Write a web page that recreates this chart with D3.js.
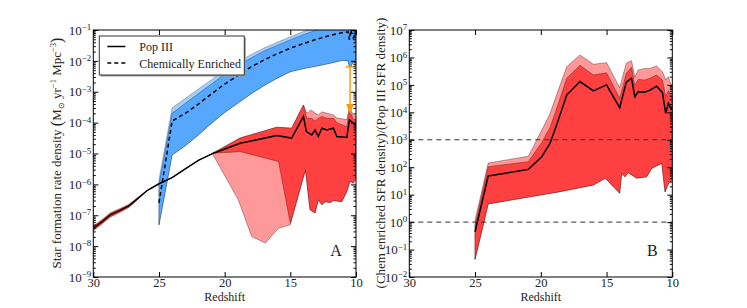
<!DOCTYPE html>
<html>
<head>
<meta charset="utf-8">
<script src="https://cdn.jsdelivr.net/npm/d3@7"></script>
<style>
body{margin:0;background:#fff;}
svg text{font-family:"Liberation Serif","Times New Roman",serif;}
</style>
</head>
<body>
<svg id="chart" width="747" height="308"></svg>
<script>
// all y values are log10 of the quantity
var xTicks = [30, 25, 20, 15, 10];
var leftYTicks = [1e-9, 1e-8, 1e-7, 1e-6, 1e-5, 1e-4, 1e-3, 1e-2, 1e-1];
var rightYTicks = [1e-2, 1e-1, 1, 1e1, 1e2, 1e3, 1e4, 1e5, 1e6, 1e7];
var ratioRefLines = [1e3, 1];

// panel A: Pop III
var popZ   = [30, 29.3, 28.7, 28, 27.3, 26.9, 26.4, 25.9, 25, 24, 23, 22, 20.85, 18.83, 16.03, 14.9, 14.0, 13.78, 13.37, 13.12, 12.87, 12.6, 12.22, 11.72, 11.46, 10.7, 10.5, 10.2, 10];
var popMed = [-7.42, -7.2, -6.99, -6.85, -6.7, -6.56, -6.38, -6.2, -5.98, -5.78, -5.5, -5.22, -4.99, -4.67, -4.42, -4.5, -3.8, -4.29, -4.4, -4.24, -4.45, -4.18, -4.24, -4.18, -4.45, -4.48, -3.91, -4.02, -4.07];
var popHiZ = [30, 29.3, 28.7, 28, 27.3, 26.9, 26.4, 25.9, 25, 24, 23, 22, 20.85, 18.83, 16.03, 14.9, 14.0, 13.75, 13.4, 13.1, 12.87, 12.6, 12.2, 11.7, 11.46, 10.7, 10.5, 10.2, 10];
var popHi  = [-7.35, -7.13, -6.92, -6.79, -6.65, -6.52, -6.36, -6.2, -5.98, -5.78, -5.5, -5.22, -4.99, -4.5, -4.15, -4.18, -3.43, -3.86, -3.86, -3.95, -3.86, -3.8, -3.86, -3.86, -4.0, -4.13, -3.59, -3.9, -3.9];
var popLoZ = [30, 29.3, 28.7, 28, 27.3, 26.9, 26.4, 25.9, 25, 24, 23, 22, 20.85, 18.8, 15.9, 15.0, 13.85, 13.5, 13.12, 12.87, 12.6, 12.35, 11.97, 11.72, 11.08, 10.7, 10.45, 10.2, 10];
var popLo  = [-7.5, -7.27, -7.06, -6.91, -6.75, -6.6, -6.4, -6.2, -5.98, -5.78, -5.5, -5.22, -4.99, -4.94, -5.26, -7.26, -5.53, -6.82, -6.93, -6.5, -6.66, -6.56, -6.59, -6.52, -6.56, -6.23, -5.9, -5.96, -5.8];
var popOuterHiZ = [20.95, 18.83, 16.03, 14.9, 14.0, 13.75, 13.4, 13.1, 12.87, 12.6, 12.2, 11.7, 11.46, 10.7, 10.5, 10.2, 10];
var popOuterHi  = [-4.99, -4.5, -4.15, -4.18, -3.43, -3.7, -3.59, -3.7, -3.75, -3.65, -3.7, -3.75, -3.85, -3.9, -3.5, -3.75, -3.8];
var popOuterLoZ = [20.95, 18.96, 17.94, 16.9, 15.9, 15.0, 13.85, 13.5, 13.12, 12.87, 12.6, 12.35, 11.97, 11.72, 11.08, 10.7, 10.45, 10.2, 10];
var popOuterLo  = [-4.99, -6.5, -7.69, -7.9, -7.42, -7.31, -5.53, -6.82, -6.93, -6.5, -6.66, -6.56, -6.59, -6.52, -6.56, -6.23, -5.9, -5.96, -5.8];

// panel A: chemically enriched
var enrZ       = [25, 24, 23, 22, 21, 20, 19, 18, 17, 16, 15, 14, 13, 12, 11, 10.6, 10.5, 10.4, 10.2, 10];
var enrMed     = [-6.6, -3.95, -3.7, -3.4, -3.07, -2.75, -2.48, -2.2, -1.97, -1.77, -1.59, -1.44, -1.3, -1.18, -1.08, -1.06, -1.32, -1.0, -1.27, -1.1];
var enrLo      = [-7.31, -5.05, -4.75, -4.4, -4.02, -3.67, -3.37, -3.07, -2.8, -2.56, -2.35, -2.25, -2.17, -2.08, -1.98, -2.0, -2.19, -2.19, -2.03, -1.97];
var enrHi      = [-6.0, -3.7, -3.38, -3.06, -2.75, -2.43, -2.16, -1.91, -1.68, -1.5, -1.32, -1.15, -1.0, -0.88, -0.78, -0.74, -0.73, -0.72, -0.71, -0.7];
var enrOuterHi = [-5.85, -3.52, -3.22, -2.91, -2.61, -2.3, -2.04, -1.8, -1.58, -1.4, -1.22, -1.05, -0.9, -0.78, -0.68, -0.64, -0.63, -0.62, -0.61, -0.6];

// orange lower-limit bar
var limZ = 10.45, limTop = -2.19, limBottom = -3.72;

// panel B: ratio
var ratZ       = [25, 24, 20.95, 19.93, 19.3, 18.75, 18.03, 17.02, 16.0, 15.0, 14.0, 13.5, 13.1, 12.85, 12.6, 12.1, 11.7, 11.2, 10.75, 10.5, 10.3, 10.1, 10];
var ratMed     = [-0.35, 1.68, 1.92, 2.38, 2.87, 3.6, 4.63, 5.12, 4.78, 5.0, 4.17, 5.1, 5.24, 4.57, 4.75, 4.73, 4.81, 4.95, 4.72, 3.96, 4.33, 4.12, 4.2];
var ratHi      = [-0.1, 2.02, 2.2, 2.9, 3.45, 4.2, 5.24, 5.72, 5.36, 5.44, 4.51, 5.42, 5.64, 4.99, 5.2, 5.18, 5.24, 5.36, 5.18, 4.57, 4.8, 4.6, 4.62];
var ratOuterHi = [0.07, 2.15, 2.4, 3.35, 3.95, 4.7, 5.66, 6.09, 5.75, 5.81, 4.9, 5.79, 5.88, 5.28, 5.54, 5.6, 5.6, 5.69, 5.48, 5.18, 5.3, 5.0, 5.0];
var ratLoZ     = [25, 24, 18.54, 16.0, 15.1, 14.0, 13.85, 13.6, 13.35, 12.7, 11.95, 11.56, 10.8, 10.55, 10.3, 10.05, 10];
var ratLo      = [-1.36, 0.66, 1.11, 1.35, 1.6, 1.05, 1.78, 1.65, 1.8, 1.6, 1.65, 1.96, 2.14, 1.1, 1.4, 1.53, 1.53];

var RED = '#ff4040', PINK = '#ff9999', BLUE = '#56a8ff', LIGHTBLUE = '#a6cdf3', ORANGE = '#ff9a10';
var EDGE = 'rgba(60,0,0,0.45)';
var FONT = '"Liberation Serif","Times New Roman",serif';

var svg = d3.select('#chart').style('font-family', FONT);

function pts(zs, logs){
	return zs.map(function(z, i){ return [z, Math.pow(10, logs[i])]; });
}

function makePanel(box, yDomain){
	var w = box.right - box.left, h = box.bottom - box.top;
	var g = svg.append('g').attr('transform', 'translate(' + box.left + ',' + box.top + ')');
	var x = d3.scaleLinear().domain([30, 10]).range([0, w]);
	var y = d3.scaleLog().domain(yDomain).range([h, 0]);
	var id = 'clip' + box.name;
	g.append('clipPath').attr('id', id).append('rect').attr('width', w).attr('height', h);
	var plot = g.append('g').attr('clip-path', 'url(#' + id + ')');
	var line = d3.line().x(function(d){ return x(d[0]); }).y(function(d){ return y(d[1]); });
	return {g: g, plot: plot, x: x, y: y, w: w, h: h, line: line};
}

function band(p, hiZ, hi, loZ, lo, fill, edge){
	var poly = pts(hiZ, hi).concat(pts(loZ, lo).reverse());
	p.plot.append('path')
		.attr('d', p.line(poly) + 'Z')
		.attr('fill', fill)
		.attr('stroke', edge)
		.attr('stroke-width', 0.8)
		.attr('stroke-linejoin', 'round');
}

function curve(p, zs, logs, dash){
	p.plot.append('path')
		.attr('d', p.line(pts(zs, logs)))
		.attr('fill', 'none')
		.attr('stroke', '#000')
		.attr('stroke-width', 1.5)
		.attr('stroke-dasharray', dash || null);
}

function minorTicks(ticks){
	var out = [];
	for(var i = 0; i < ticks.length - 1; i++){
		for(var k = 2; k < 10; k++) out.push(ticks[i] * k);
	}
	return out;
}

function expLabel(d){
	var e = Math.round(Math.log10(d));
	return (e < 0 ? '\u2212' : '') + Math.abs(e);
}

function drawAxes(p, yTicks){
	var g = p.g;
	var minor = minorTicks(yTicks);
	var parts = [
		g.append('g').call(d3.axisLeft(p.y).tickValues(minor).tickSize(-2.5).tickSizeOuter(0).tickFormat('')),
		g.append('g').attr('transform', 'translate(' + p.w + ',0)').call(d3.axisRight(p.y).tickValues(minor).tickSize(-2.5).tickSizeOuter(0).tickFormat('')),
		g.append('g').attr('transform', 'translate(' + p.w + ',0)').call(d3.axisRight(p.y).tickValues(yTicks).tickSize(-5).tickSizeOuter(0).tickFormat('')),
		g.append('g').call(d3.axisTop(p.x).tickValues(xTicks).tickSize(-5).tickSizeOuter(0).tickFormat(''))
	];
	var xa = g.append('g').attr('transform', 'translate(0,' + p.h + ')')
		.call(d3.axisBottom(p.x).tickValues(xTicks).tickSize(-5).tickSizeOuter(0).tickPadding(1.5).tickFormat(d3.format('d')));
	var ya = g.append('g')
		.call(d3.axisLeft(p.y).tickValues(yTicks).tickSize(-5).tickSizeOuter(0).tickPadding(2).tickFormat(''));
	parts.push(xa, ya);
	parts.forEach(function(a){
		a.attr('color', '#000').attr('font-size', 13).attr('font-family', FONT);
		a.select('.domain').remove();
		a.selectAll('text').attr('fill', '#222');
	});
	xa.selectAll('text').attr('font-size', 12.5);
	ya.selectAll('.tick text').each(function(d){
		var t = d3.select(this);
		t.append('tspan').text('10');
		t.append('tspan').attr('dy', '-0.5em').attr('font-size', 9).text(expLabel(d));
	});
	g.append('rect')
		.attr('width', p.w).attr('height', p.h)
		.attr('fill', 'none').attr('stroke', '#000').attr('stroke-width', 1);
	g.append('text')
		.attr('x', p.w / 2).attr('y', p.h + 24)
		.attr('text-anchor', 'middle').attr('font-size', 12).attr('fill', '#222')
		.text('Redshift');
}

// ---------- panel A ----------
var a = makePanel({name: 'A', left: 93.3, right: 356, top: 30, bottom: 277}, [1e-9, 1e-1]);
band(a, enrZ, enrOuterHi, enrZ, enrLo, LIGHTBLUE, 'rgba(0,30,80,0.35)');
band(a, enrZ, enrHi, enrZ, enrLo, BLUE, 'rgba(0,30,80,0.45)');
band(a, popOuterHiZ, popOuterHi, popOuterLoZ, popOuterLo, PINK, EDGE);
band(a, popHiZ, popHi, popLoZ, popLo, RED, EDGE);
curve(a, popZ, popMed);
curve(a, enrZ, enrMed, '4,3');

// orange lower limit
var lx = a.x(limZ), ly0 = a.y(Math.pow(10, limTop)), ly1 = a.y(Math.pow(10, limBottom));
a.plot.append('line').attr('x1', lx - 4).attr('x2', lx + 4).attr('y1', ly0).attr('y2', ly0)
	.attr('stroke', ORANGE).attr('stroke-width', 1.5);
a.plot.append('line').attr('x1', lx).attr('x2', lx).attr('y1', ly0).attr('y2', ly1 - 8)
	.attr('stroke', ORANGE).attr('stroke-width', 1.5);
a.plot.append('path')
	.attr('d', 'M' + (lx - 4) + ',' + (ly1 - 10) + 'L' + (lx + 4) + ',' + (ly1 - 10) + 'L' + lx + ',' + ly1 + 'Z')
	.attr('fill', ORANGE);

// legend
var leg = a.g.append('g').attr('transform', 'translate(6,6)');
leg.append('rect').attr('x', 1.5).attr('y', 1.5).attr('width', 145).attr('height', 39).attr('fill', '#999');
leg.append('rect').attr('width', 145).attr('height', 39).attr('fill', '#fff').attr('stroke', '#333').attr('stroke-width', 1);
var legItems = [{label: 'Pop III', dash: null}, {label: 'Chemically Enriched', dash: '4,3'}];
legItems.forEach(function(d, i){
	var yy = 10.5 + i * 16.5;
	leg.append('line').attr('x1', 8).attr('x2', 26).attr('y1', yy).attr('y2', yy)
		.attr('stroke', '#000').attr('stroke-width', 1.5).attr('stroke-dasharray', d.dash);
	leg.append('text').attr('x', 40).attr('y', yy + 4.5).attr('font-size', 12).attr('fill', '#222').text(d.label);
});

a.g.append('text').attr('x', a.w - 20).attr('y', 226).attr('text-anchor', 'middle')
	.attr('font-size', 16).attr('fill', '#222').text('A');
drawAxes(a, leftYTicks);

var ylA = svg.append('text').attr('transform', 'translate(61,153) rotate(-90)')
	.attr('text-anchor', 'middle').attr('font-size', 13).attr('fill', '#222');
ylA.append('tspan').text('Star formation rate density ');
ylA.append('tspan').attr('font-size', 16).attr('dy', 1).text('(');
ylA.append('tspan').attr('dy', -1).text('M');
ylA.append('tspan').attr('font-size', 8).attr('dy', 2.5).text('\u2299');
ylA.append('tspan').attr('dy', -2.5).text(' yr');
ylA.append('tspan').attr('font-size', 8.5).attr('dy', -5).text('\u22121');
ylA.append('tspan').attr('dy', 5).text(' Mpc');
ylA.append('tspan').attr('font-size', 8.5).attr('dy', -5).text('\u22123');
ylA.append('tspan').attr('font-size', 16).attr('dy', 6).text(')');

// ---------- panel B ----------
var b = makePanel({name: 'B', left: 409.3, right: 672.3, top: 30, bottom: 277}, [1e-2, 1e7]);
band(b, ratZ, ratOuterHi, ratLoZ, ratLo, PINK, EDGE);
band(b, ratZ, ratHi, ratLoZ, ratLo, RED, EDGE);
curve(b, ratZ, ratMed);
b.plot.selectAll('line.ref').data(ratioRefLines).enter()
	.append('line').attr('class', 'ref')
	.attr('x1', 0).attr('x2', b.w)
	.attr('y1', function(d){ return b.y(d); })
	.attr('y2', function(d){ return b.y(d); })
	.attr('stroke', '#333').attr('stroke-width', 1).attr('stroke-dasharray', '5,4');
b.g.append('text').attr('x', b.w - 20).attr('y', 226).attr('text-anchor', 'middle')
	.attr('font-size', 16).attr('fill', '#222').text('B');
drawAxes(b, rightYTicks);

svg.append('text').attr('transform', 'translate(385,153) rotate(-90)')
	.attr('text-anchor', 'middle').attr('font-size', 13).attr('fill', '#222')
	.text('(Chem enriched SFR density)/(Pop III SFR density)');
</script>
</body>
</html>
